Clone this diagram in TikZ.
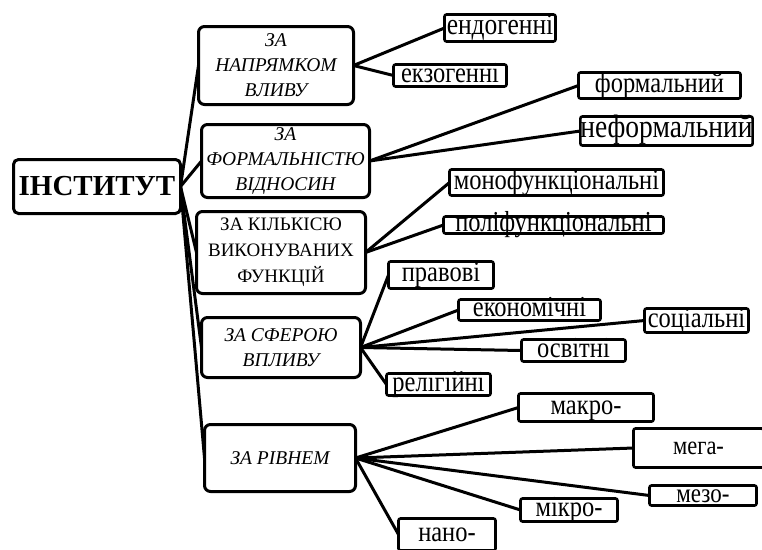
\documentclass[tikz,border=0pt]{standalone}
\usepackage{fontspec}
\usepackage{graphicx}
\setmainfont{Liberation Serif}
\usetikzlibrary{backgrounds}
\newcommand\tallword[1]{\scalebox{1}[1.18]{#1}}
\tikzset{
  instbox/.style={draw, line width=3pt, rounded corners=5pt, inner sep=0pt, outer sep=0pt,
    font=\fontsize{29}{29}\selectfont\bfseries, fill=white},
  catbox/.style={draw, line width=3pt, rounded corners=6pt, inner sep=0pt, outer sep=0pt,
    align=center, font=\itshape\fontsize{19.5}{25}\selectfont, fill=white},
  catup/.style={catbox, font=\fontsize{19}{26}\selectfont},
  leafbox/.style={draw, line width=2.6pt, rounded corners=2pt, inner sep=0pt, outer sep=0pt,
    font=\fontsize{24.5}{24.5}\selectfont, fill=white, text height=13pt, text depth=0pt},
  link/.style={line width=3pt, line cap=round}
}
\begin{document}
\begin{tikzpicture}[x=1pt, y=-1pt]
\useasboundingbox (0,0) rectangle (762,549);
% main
\node[instbox, minimum width=167pt, minimum height=54pt] (inst) at (97,186.5) {ІНСТИТУТ};
% categories
\node[catbox, minimum width=155pt, minimum height=78pt] (c1) at (276,65.5) {ЗА\\НАПРЯМКОМ\\ВЛИВУ};
\node[catbox, minimum width=168pt, minimum height=73pt] (c2) at (285.5,161) {ЗА\\ФОРМАЛЬНІСТЮ\\ВІДНОСИН};
\node[catup, minimum width=169pt, minimum height=82pt] (c3) at (281,252.5) {ЗА КІЛЬКІСЮ\\ВИКОНУВАНИХ\\ФУНКЦІЙ};
\node[catbox, minimum width=159pt, minimum height=60pt] (c4) at (281,347.5) {ЗА СФЕРОЮ\\ВПЛИВУ};
\node[catbox, minimum width=151pt, minimum height=67pt] (c5) at (280,458) {ЗА РІВНЕМ};
% leaves
\node[leafbox, font=\fontsize{25.5}{25.5}\selectfont, minimum width=111pt, minimum height=27pt] (endo) at (500,28) {\tallword{ендогенні}};
\node[leafbox, minimum width=113pt, minimum height=22pt] (ekzo) at (450,75.5) {\tallword{екзогенні}};
\node[leafbox, minimum width=162pt, minimum height=26pt] (formal) at (659.5,85.5) {\tallword{формальний}};
\node[leafbox, font=\fontsize{27.5}{27.5}\selectfont, minimum width=170pt, minimum height=29pt] (neformal) at (666.5,131) {\tallword{неформальний}};
\node[leafbox, minimum width=214pt, minimum height=26pt] (mono) at (556.5,182.5) {\tallword{монофункціональні}};
\node[leafbox, minimum width=220pt, minimum height=17pt] (poli) at (553.5,225) {\tallword{поліфункціональні}};
\node[leafbox, minimum width=105pt, minimum height=27pt] (pravo) at (441,275) {\tallword{правові}};
\node[leafbox, minimum width=142pt, minimum height=21pt] (ekonom) at (529.5,310) {\tallword{економічні}};
\node[leafbox, minimum width=104pt, minimum height=24pt] (social) at (696.5,320.5) {\tallword{соціальні}};
\node[leafbox, minimum width=104pt, minimum height=22pt] (osvit) at (573.5,350.5) {\tallword{освітні}};
\node[leafbox, minimum width=104pt, minimum height=22pt] (relig) at (438.5,384.5) {\tallword{релігійні}};
\node[leafbox, minimum width=135pt, minimum height=28pt] (makro) at (586,407.5) {\tallword{макро-}};
\node[leafbox, font=\fontsize{22.5}{22.5}\selectfont, minimum width=130pt, minimum height=39pt] (mega) at (698.5,448) {\tallword{мега-}};
\node[leafbox, font=\fontsize{23}{23}\selectfont, minimum width=107pt, minimum height=20pt] (mezo) at (703,495.5) {\tallword{мезо-}};
\node[leafbox, minimum width=97pt, minimum height=23pt] (mikro) at (569,510) {\tallword{мікро-}};
\node[leafbox, minimum width=97pt, minimum height=32pt] (nano) at (447,534.5) {\tallword{нано-}};
% connectors
\begin{scope}[on background layer]
\foreach \c in {c1,c2,c3,c4,c5} \draw[link] (inst.east) -- (\c.west);
\draw[link] (c1.east) -- (endo.west);
\draw[link] (c1.east) -- (ekzo.west);
\draw[link] (c2.east) -- (formal.west);
\draw[link] (c2.east) -- (neformal.west);
\draw[link] (c3.east) -- (mono.west);
\draw[link] (c3.east) -- (poli.west);
\foreach \l in {pravo,ekonom,social,osvit,relig} \draw[link] (c4.east) -- (\l.west);
\foreach \l in {makro,mega,mezo,mikro,nano} \draw[link] (c5.east) -- (\l.west);
\end{scope}
\end{tikzpicture}
\end{document}
